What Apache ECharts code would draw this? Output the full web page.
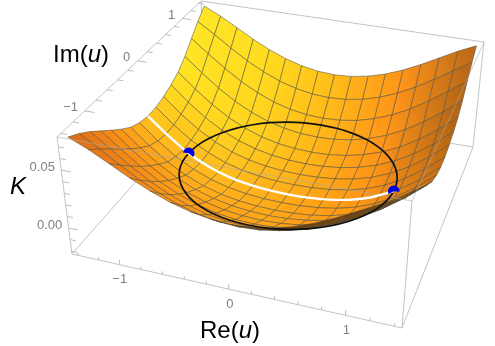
<!DOCTYPE html>
<html><head><meta charset="utf-8">
<style>html,body{margin:0;padding:0;background:#fff}#c{width:495px;height:346px}</style>
<script src="https://cdn.jsdelivr.net/npm/echarts@6/dist/echarts.min.js"></script>
</head><body><div id="c"></div>
<script>
// ---- data ----
const gridRe = [-1.4,-1.225,-1.05,-0.875,-0.7,-0.525,-0.35,-0.175,0,0.175,0.35,0.525,0.7,0.875,1.05,1.225,1.4];
const gridIm = [-1.4,-1.225,-1.05,-0.875,-0.7,-0.525,-0.35,-0.175,0,0.175,0.35,0.525,0.7,0.875,1.05,1.225,1.4];
// K(Re,Im); first row is Im = -1.4
const surfaceK = [
[.0764,.0687,.0597,.0507,.0428,.0364,.0318,.0290,.0280,.0290,.0318,.0364,.0428,.0507,.0597,.0687,.0764],
[.0707,.0601,.0493,.0393,.0310,.0244,.0198,.0170,.0161,.0170,.0198,.0244,.0310,.0393,.0493,.0601,.0707],
[.0637,.0513,.0395,.0292,.0209,.0145,.0101,.0076,.0068,.0076,.0101,.0145,.0209,.0292,.0395,.0513,.0637],
[.0557,.0423,.0302,.0200,.0120,.0061,.0021,-.0002,-.0009,-.0002,.0021,.0061,.0120,.0200,.0302,.0423,.0557],
[.0478,.0340,.0219,.0120,.0045,-.0009,-.0045,-.0065,-.0071,-.0065,-.0045,-.0009,.0045,.0120,.0219,.0340,.0478],
[.0404,.0264,.0145,.0051,-.0019,-.0068,-.0100,-.0117,-.0123,-.0117,-.0100,-.0068,-.0019,.0051,.0145,.0264,.0404],
[.0338,.0198,.0081,-.0009,-.0075,-.0120,-.0148,-.0163,-.0168,-.0163,-.0148,-.0120,-.0075,-.0009,.0081,.0198,.0338],
[.0300,.0160,.0046,-.0042,-.0105,-.0147,-.0173,-.0187,-.0191,-.0187,-.0173,-.0147,-.0105,-.0042,.0046,.0160,.0300],
[.0280,.0141,.0028,-.0059,-.0121,-.0163,-.0188,-.0201,-.0205,-.0201,-.0188,-.0163,-.0121,-.0059,.0028,.0141,.0280],
[.0285,.0145,.0031,-.0057,-.0120,-.0162,-.0188,-.0202,-.0206,-.0202,-.0188,-.0162,-.0120,-.0057,.0031,.0145,.0285],
[.0308,.0168,.0051,-.0039,-.0105,-.0150,-.0178,-.0193,-.0198,-.0193,-.0178,-.0150,-.0105,-.0039,.0051,.0168,.0308],
[.0344,.0204,.0085,-.0009,-.0079,-.0128,-.0160,-.0177,-.0183,-.0177,-.0160,-.0128,-.0079,-.0009,.0085,.0204,.0344],
[.0393,.0255,.0134,.0035,-.0040,-.0094,-.0130,-.0150,-.0156,-.0150,-.0130,-.0094,-.0040,.0035,.0134,.0255,.0393],
[.0472,.0338,.0217,.0115,.0035,-.0024,-.0064,-.0087,-.0094,-.0087,-.0064,-.0024,.0035,.0115,.0217,.0338,.0472],
[.0577,.0453,.0335,.0232,.0149,.0085,.0041,.0016,.0008,.0016,.0041,.0085,.0149,.0232,.0335,.0453,.0577],
[.0677,.0571,.0463,.0363,.0280,.0214,.0168,.0140,.0131,.0140,.0168,.0214,.0280,.0363,.0463,.0571,.0677],
[.0764,.0687,.0597,.0507,.0428,.0364,.0318,.0290,.0280,.0290,.0318,.0364,.0428,.0507,.0597,.0687,.0764]
];
const whiteRe = [-1.4,-1.2,-1,-0.8,-0.6,-0.4,-0.2,0,0.2,0.4,0.6,0.8,1];
const whiteK  = [.0280,.0128,0,-.0089,-.0147,-.0182,-.0200,-.0205,-.0200,-.0182,-.0147,-.0089,0];
const circleRe = [1,.985,.94,.866,.766,.643,.5,.342,.174,0,-.174,-.342,-.5,-.643,-.766,-.866,-.94,-.985,-1,-.985,-.94,-.866,-.766,-.643,-.5,-.342,-.174,0,.174,.342,.5,.643,.766,.866,.94,.985,1];
const circleIm = [0,.174,.342,.5,.643,.766,.866,.94,.985,1,.985,.94,.866,.766,.643,.5,.342,.174,0,-.174,-.342,-.5,-.643,-.766,-.866,-.94,-.985,-1,-.985,-.94,-.866,-.766,-.643,-.5,-.342,-.174,0];
const circleK = [0,-.0006,-.0012,-.0018,-.0023,-.0027,-.003,-.0033,-.0034,-.0035,-.0034,-.0033,-.003,-.0027,-.0023,-.0018,-.0012,-.0006,0,.0009,.0017,.0025,.0032,.0038,.0043,.0047,.0049,.005,.0049,.0047,.0043,.0038,.0032,.0025,.0017,.0009,0];
const bluePointsRe = [-1, 1];
const reMajor = [-1,0,1], imMajor = [-1,0,1];
const reMinor = [-1.4,-1.2,-0.8,-0.6,-0.4,-0.2,0.2,0.4,0.6,0.8,1.2,1.4];
const imMinor = [-1.4,-1.2,-0.8,-0.6,-0.4,-0.2,0.2,0.4,0.6,0.8,1.2,1.4];
const kMajor = [0,0.05];
const kMinor = [-0.02,-0.01,0.01,0.02,0.03,0.04,0.06,0.07];
const tickText = {'-1':'\u22121','0':'0','1':'1'};
const kText = {'0':'0.00','0.05':'0.05'};
// colour look-up: rows Im=-1.4..1.4, columns Re=-1.4..1.4
const toneRows = [
[[215,105,25],[250,140,20],[255,155,20],[240,140,20],[130,75,15]],
[[250,140,20],[255,162,25],[255,165,25],[255,155,20],[205,115,20]],
[[255,192,30],[255,188,30],[255,172,25],[255,150,20],[200,110,20]],
[[255,228,35],[255,212,30],[255,182,25],[255,148,25],[175,98,20]],
[[255,230,40],[255,220,30],[255,190,25],[255,150,25],[190,105,25]]
];
const undersideColor = 'rgb(112,66,14)';
// ---- box and camera ----
const reBox = [-1.46,1.46], imBox = [-1.46,1.46], kBox = [-0.0224,0.0785];
const baseQuad = [[72,254],[402,328],[473,147],[206,102]];
const topQuad  = [[57,137],[412,201],[484,42],[201,1]];
function homography(q){
  const [[x0,y0],[x1,y1],[x2,y2],[x3,y3]] = q;
  const dx1=x1-x2,dx2=x3-x2,sx=x0-x1+x2-x3,dy1=y1-y2,dy2=y3-y2,sy=y0-y1+y2-y3;
  const den=dx1*dy2-dx2*dy1, g=(sx*dy2-dx2*sy)/den, h=(dx1*sy-sx*dy1)/den;
  const a=x1-x0+g*x1,b=x3-x0+h*x3,d=y1-y0+g*y1,e=y3-y0+h*y3;
  return (s,t)=>{const w=g*s+h*t+1;return [(a*s+b*t+x0)/w,(d*s+e*t+y0)/w];};
}
const H0=homography(baseQuad), H1=homography(topQuad);
function proj(re,im,k){
  const s=(re-reBox[0])/(reBox[1]-reBox[0]), t=(im-imBox[0])/(imBox[1]-imBox[0]), h=(k-kBox[0])/(kBox[1]-kBox[0]);
  const p=H0(s,t), q=H1(s,t);
  return [p[0]+(q[0]-p[0])*h, p[1]+(q[1]-p[1])*h];
}
function tone(re,im){
  const u=Math.min(3.999,(re+1.4)/0.7), v=Math.min(3.999,(im+1.4)/0.7);
  const i=Math.floor(u), j=Math.floor(v), a=u-i, b=v-j, c=[];
  for(let n=0;n<3;n++) c[n]=(toneRows[j][i][n]*(1-a)+toneRows[j][i+1][n]*a)*(1-b)+(toneRows[j+1][i][n]*(1-a)+toneRows[j+1][i+1][n]*a)*b;
  return c;
}
const rgb=c=>'rgb('+c.map(Math.round).join(',')+')';
// cell list, back to front, outer to centre
const cells=[];
for(let j=gridIm.length-2;j>=0;j--){
  const cols=[]; for(let i=0;i<gridRe.length-1;i++) cols.push(i);
  cols.sort((a,b)=>Math.abs(b-7.5)-Math.abs(a-7.5));
  cols.forEach(i=>cells.push([i,j]));
}
const [rL,rR]=reBox,[iL,iR]=imBox,[kL,kR]=kBox;
const backEdges=[
 [[rL,iL,kL],[rR,iL,kL]],[[rR,iL,kL],[rR,iR,kL]],[[rR,iR,kL],[rL,iR,kL]],[[rL,iR,kL],[rL,iL,kL]],
 [[rL,iL,kL],[rL,iL,kR]],[[rR,iL,kL],[rR,iL,kR]],[[rR,iR,kL],[rR,iR,kR]],[[rL,iR,kL],[rL,iR,kR]],
 [[rL,iL,kR],[rL,iR,kR]],[[rL,iR,kR],[rR,iR,kR]]];
const frontEdges=[[[rL,iL,kR],[rR,iL,kR]],[[rR,iL,kR],[rR,iR,kR]]];
const line=(api,a,b,color,w)=>({type:'line',shape:{x1:api.coord(a)[0],y1:api.coord(a)[1],x2:api.coord(b)[0],y2:api.coord(b)[1]},style:{stroke:color,lineWidth:w}});
const boxColor='#c4c4c4', tickColor='#bdbdbd', labelColor='#808080';
function seg(p,q){return [p,q];}
const ticks=[];
reMajor.forEach(v=>ticks.push(seg([v,iL,kL],[v,iL,kL+0.0042])));
reMinor.forEach(v=>ticks.push(seg([v,iL,kL],[v,iL,kL+0.0025])));
imMajor.forEach(v=>ticks.push(seg([rL,v,kR],[rL+0.09,v,kR])));
imMinor.forEach(v=>ticks.push(seg([rL,v,kR],[rL+0.055,v,kR])));
kMajor.forEach(v=>ticks.push(seg([rL,iL,v],[rL+0.09,iL,v])));
kMinor.forEach(v=>ticks.push(seg([rL,iL,v],[rL+0.055,iL,v])));
const labels=[];
reMajor.forEach(v=>labels.push({p:[v,iL,kL],t:tickText[v],dx:v<0?0:1,dy:15}));
imMajor.forEach(v=>labels.push({p:[rL,v,kR],t:tickText[v],dx:v<0?-14:-11,dy:-3}));
kMajor.forEach(v=>labels.push({p:[rL,iL,v],t:kText[v],dx:-19,dy:-3}));
const FONT='"Liberation Sans", Arial, sans-serif';
const base={type:'custom',coordinateSystem:'cartesian2d',silent:true,clip:false,animation:false};
const series=[
 {...base,z:1,data:backEdges.map((e,i)=>[i]),renderItem:(p,api)=>{const e=backEdges[api.value(0)];return line(api,proj(...e[0]),proj(...e[1]),boxColor,1);}},
 {...base,z:2,data:ticks.map((e,i)=>[i]),renderItem:(p,api)=>{const e=ticks[api.value(0)];return line(api,proj(...e[0]),proj(...e[1]),tickColor,1);}},
 {...base,z:3,data:labels.map((e,i)=>[i]),renderItem:(p,api)=>{const l=labels[api.value(0)],c=api.coord(proj(...l.p));return {type:'text',x:c[0]+l.dx,y:c[1]+l.dy,style:{text:l.t,fill:labelColor,font:'13px '+FONT,align:'center',verticalAlign:'middle'}};}},
 {...base,z:4,data:cells,renderItem:(p,api)=>{
   const i=api.value(0),j=api.value(1),x0=gridRe[i],x1=gridRe[i+1],y0=gridIm[j],y1=gridIm[j+1];
   const pts=[[x0,y0,surfaceK[j][i]],[x1,y0,surfaceK[j][i+1]],[x1,y1,surfaceK[j+1][i+1]],[x0,y1,surfaceK[j+1][i]]].map(q=>api.coord(proj(...q)));
   let area=0; for(let n=0;n<4;n++){const a=pts[n],b=pts[(n+1)%4];area+=a[0]*b[1]-b[0]*a[1];}
   const ym=(y0+y1)/2, L=tone(x0,ym), R=tone(x1,ym);
   const lm=[(pts[0][0]+pts[3][0])/2,(pts[0][1]+pts[3][1])/2], rm=[(pts[1][0]+pts[2][0])/2,(pts[1][1]+pts[2][1])/2];
   const fill= area<0 ? {type:'linear',x:lm[0],y:lm[1],x2:rm[0],y2:rm[1],global:true,colorStops:[{offset:0,color:rgb(L)},{offset:1,color:rgb(R)}]} : undersideColor;
   return {type:'polygon',shape:{points:pts},style:{fill:fill,stroke:'rgba(85,80,60,0.6)',lineWidth:0.9,lineJoin:'round'}};
 }},
 {...base,z:5,data:frontEdges.map((e,i)=>[i]),renderItem:(p,api)=>{const e=frontEdges[api.value(0)];return line(api,proj(...e[0]),proj(...e[1]),'rgba(170,170,170,0.55)',1);}},
 {...base,z:6,data:[[0]],renderItem:(p,api)=>({type:'polyline',shape:{points:circleRe.map((r,n)=>api.coord(proj(r,circleIm[n],circleK[n]))),smooth:0.4},style:{stroke:'#111',fill:'none',lineWidth:1.7}})},
 {...base,z:7,data:[[0]],renderItem:(p,api)=>({type:'polyline',shape:{points:whiteRe.map((r,n)=>api.coord(proj(r,0,whiteK[n]))),smooth:0.3},style:{stroke:'#fff',fill:'none',lineWidth:2.4}})},
 {...base,z:8,data:bluePointsRe.map(r=>[r]),renderItem:(p,api)=>{
   const r=api.value(0),c=api.coord(proj(r,0,0)),d=r<0?0.42:-0.2;
   return {type:'sector',shape:{cx:c[0],cy:c[1],r0:0,r:5.8,startAngle:Math.PI+d-0.3,endAngle:2*Math.PI+d+0.3,clockwise:true},style:{fill:'#0000e6'}};
 }}
];
const rich=(x,y,parts)=>({type:'text',x:x,y:y,silent:true,style:{text:parts,rich:{a:{font:'24px '+FONT,fill:'#000'},b:{font:'italic 24px '+FONT,fill:'#000'}},align:'left',verticalAlign:'middle'}});
const chart=echarts.init(document.getElementById('c'),null,{renderer:'canvas'});
chart.setOption({
 animation:false,backgroundColor:'#fff',
 grid:{left:0,right:0,top:0,bottom:0},
 xAxis:{type:'value',min:0,max:495,show:false},
 yAxis:{type:'value',min:0,max:346,inverse:true,show:false},
 series:series,
 graphic:[rich(53,55,'{a|Im(}{b|u}{a|)}'),rich(10,187,'{b|K}'),rich(200,331,'{a|Re(}{b|u}{a|)}')]
});
</script></body></html>
